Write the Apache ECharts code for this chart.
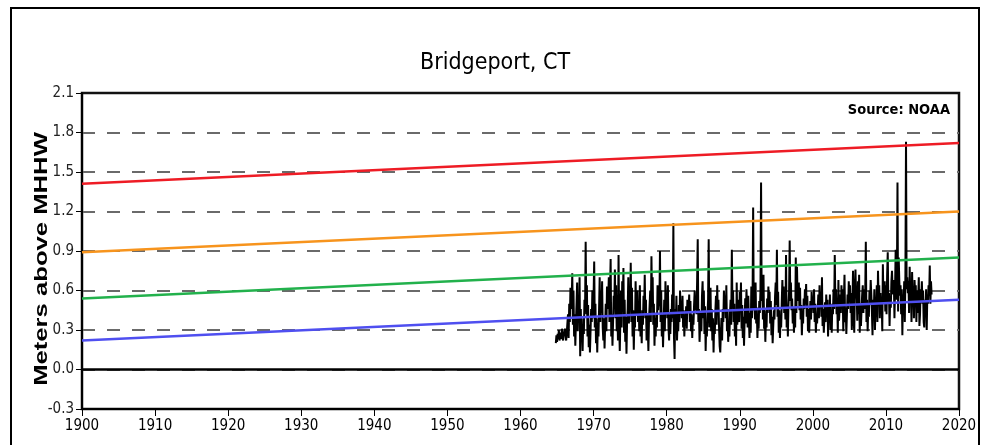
<!DOCTYPE html>
<html><head><meta charset="utf-8">
<script src="https://cdn.jsdelivr.net/npm/echarts@6/dist/echarts.min.js"></script>
<style>html,body{margin:0;padding:0;background:#fff}#c{width:990px;height:445px}</style>
</head><body><div id="c"></div>
<script>
// Monthly highest water level (m above MHHW), starting Nov 1964, one value per month
const tideStart = 1964 + 10/12;
const tideStep = 1/12;
const tide1960s = [0.20,0.26,
 0.21,0.27,0.24,0.30,0.22,0.26,0.28,0.23,0.31,0.25,0.22,0.29,
 0.26,0.31,0.25,0.22,0.28,0.35,0.42,0.24,0.50,0.36,0.62,0.46,
 0.50,0.73,0.34,0.60,0.25,0.42,0.18,0.36,0.49,0.66,0.29,0.53,
 0.39,0.70,0.10,0.46,0.22,0.32,0.14,0.39,0.27,0.53,0.45,0.97,
 0.42,0.64,0.25,0.49,0.17,0.34,0.13,0.29,0.46,0.36,0.60,0.39];
const tide1970s = [
 0.56,0.82,0.32,0.50,0.20,0.39,0.13,0.35,0.25,0.46,0.70,0.36,
 0.60,0.43,0.67,0.32,0.22,0.39,0.16,0.34,0.50,0.29,0.63,0.46,
 0.53,0.70,0.36,0.60,0.84,0.25,0.42,0.18,0.36,0.56,0.48,0.76,
 0.39,0.64,0.29,0.49,0.22,0.87,0.34,0.14,0.39,0.60,0.32,0.67,
 0.50,0.77,0.28,0.53,0.21,0.40,0.12,0.36,0.46,0.70,0.35,0.57,
 0.46,0.81,0.36,0.62,0.25,0.45,0.15,0.39,0.32,0.67,0.42,0.53,
 0.60,0.36,0.50,0.29,0.64,0.25,0.40,0.20,0.45,0.34,0.56,0.46,
 0.72,0.39,0.53,0.22,0.42,0.32,0.14,0.38,0.49,0.60,0.36,0.86,
 0.53,0.70,0.34,0.50,0.18,0.39,0.25,0.43,0.32,0.64,0.45,0.56,
 0.48,0.90,0.36,0.60,0.25,0.42,0.17,0.35,0.53,0.29,0.67,0.46];
const tide1980s = [
 0.56,0.39,0.64,0.32,0.22,0.42,0.27,0.46,0.36,0.57,0.39,1.11,
 0.25,0.08,0.46,0.34,0.56,0.22,0.39,0.29,0.49,0.36,0.60,0.42,
 0.50,0.39,0.56,0.32,0.45,0.25,0.40,0.35,0.48,0.31,0.53,0.43,
 0.46,0.57,0.36,0.52,0.29,0.42,0.24,0.39,0.34,0.49,0.60,0.45,
 0.53,0.42,0.67,0.99,0.36,0.46,0.21,0.34,0.43,0.29,0.56,0.67,
 0.39,0.60,0.27,0.48,0.14,0.36,0.25,0.42,0.53,0.99,0.32,0.50,
 0.62,0.29,0.46,0.22,0.39,0.13,0.35,0.27,0.45,0.56,0.34,0.64,
 0.42,0.53,0.32,0.18,0.13,0.28,0.39,0.22,0.46,0.36,0.60,0.49,
 0.56,0.39,0.64,0.29,0.46,0.21,0.36,0.25,0.43,0.53,0.34,0.91,
 0.48,0.60,0.36,0.50,0.25,0.40,0.18,0.66,0.34,0.53,0.42,0.36];
const tide1990s = [
 0.59,0.45,0.66,0.31,0.49,0.24,0.40,0.18,0.38,0.54,0.35,0.61,
 0.49,0.32,0.56,0.38,0.24,0.43,0.28,0.63,0.39,0.52,1.23,0.45,
 0.59,0.38,0.66,0.35,0.47,0.24,0.40,0.31,0.52,0.43,0.60,1.42,
 0.52,0.68,0.38,0.72,0.31,0.45,0.21,0.38,0.32,0.54,0.43,0.63,
 0.46,0.59,0.35,0.52,0.26,0.40,0.20,0.33,0.45,0.38,0.56,0.66,
 0.49,0.91,0.40,0.59,0.28,0.45,0.24,0.38,0.32,0.52,0.68,0.47,
 0.63,0.43,0.54,0.38,0.87,0.32,0.45,0.25,0.49,0.59,0.98,0.52,
 0.66,0.45,0.54,0.35,0.47,0.28,0.40,0.32,0.85,0.43,0.78,0.52,
 0.59,0.66,0.45,0.62,0.38,0.49,0.26,0.43,0.35,0.54,0.46,0.61,
 0.52,0.65,0.40,0.56,0.29,0.46,0.28,0.42,0.52,0.38,0.59,0.49];
const tide2000s = [
 0.54,0.43,0.61,0.36,0.50,0.28,0.42,0.35,0.46,0.57,0.39,0.64,
 0.47,0.58,0.40,0.70,0.33,0.46,0.28,0.39,0.51,0.36,0.57,0.44,
 0.53,0.25,0.47,0.36,0.57,0.30,0.43,0.28,0.50,0.42,0.61,0.46,
 0.87,0.50,0.61,0.42,0.53,0.28,0.68,0.37,0.47,0.57,0.43,0.64,
 0.50,0.61,0.29,0.54,0.72,0.36,0.47,0.27,0.43,0.57,0.46,0.67,
 0.53,0.64,0.43,0.58,0.30,0.50,0.75,0.39,0.28,0.61,0.76,0.54,
 0.58,0.37,0.67,0.42,0.72,0.28,0.50,0.33,0.46,0.57,0.64,0.43,
 0.61,0.46,0.57,0.97,0.36,0.53,0.29,0.47,0.40,0.60,0.50,0.68,
 0.57,0.44,0.26,0.53,0.42,0.61,0.30,0.50,0.46,0.64,0.36,0.75,
 0.53,0.64,0.39,0.58,0.43,0.54,0.29,0.80,0.50,0.61,0.67,0.44];
const tide2010s = [
 0.64,0.42,0.72,0.89,0.50,0.58,0.33,0.54,0.47,0.67,0.75,0.60,
 0.57,0.68,0.39,0.61,0.91,0.53,0.64,1.42,0.44,0.85,0.67,0.56,
 0.64,0.42,0.61,0.26,0.57,0.47,0.67,0.36,0.72,1.73,0.61,0.70,
 0.58,0.67,0.43,0.78,0.57,0.64,0.36,0.74,0.53,0.61,0.39,0.68,
 0.57,0.64,0.36,0.60,0.43,0.54,0.70,0.33,0.42,0.61,0.53,0.67,
 0.50,0.60,0.36,0.32,0.53,0.46,0.61,0.30,0.57,0.50,0.64,0.56,
 0.79,0.50,0.67,0.57];

// Sea-level-rise projection lines (value at 1900 and 2020)
const trendYears = [1900, 2020];
const trendRed = [1.41, 1.72];
const trendOrange = [0.89, 1.20];
const trendGreen = [0.54, 0.85];
const trendBlue = [0.22, 0.53];

const xTicks = [1900, 2020, 10];
const yTicks = [-0.3, 2.1, 0.3];

const tide = [].concat(tide1960s, tide1970s, tide1980s, tide1990s, tide2000s, tide2010s);
const tideData = tide.map((v, i) => [tideStart + i * tideStep, v]);
const mk = arr => trendYears.map((y, i) => [y, arr[i]]);

const narrow = "'Liberation Sans Narrow','Arial Narrow','DejaVu Sans Condensed',sans-serif";
const chart = echarts.init(document.getElementById('c'), null, {renderer: 'canvas'});
const trendSeries = (data, color) => ({
  type: 'line', data: mk(data), showSymbol: false, symbol: 'none', silent: true, z: 4,
  lineStyle: {color: color, width: 2.5}
});
chart.setOption({
  animation: false,
  backgroundColor: '#fff',
  title: {
    text: 'Bridgeport, CT', left: 'center', top: 47,
    textStyle: {fontFamily: narrow, fontSize: 23, fontWeight: 'normal', color: '#000'}
  },
  grid: {left: 82, right: 31, top: 93, bottom: 36, show: true, borderColor: '#111', borderWidth: 2.5, backgroundColor: 'transparent'},
  xAxis: {
    type: 'value', min: xTicks[0], max: xTicks[1], interval: xTicks[2],
    axisLine: {show: true, onZero: false, lineStyle: {color: '#000', width: 2}},
    axisTick: {show: true, length: 7, lineStyle: {color: '#000', width: 1}},
    axisLabel: {fontFamily: narrow, fontSize: 15, color: '#000', margin: 10,
      formatter: v => String(v)},
    splitLine: {show: false}
  },
  yAxis: {
    type: 'value', min: yTicks[0], max: yTicks[1], interval: yTicks[2],
    axisLine: {show: true, onZero: false, lineStyle: {color: '#000', width: 2}},
    axisTick: {show: true, length: 6, lineStyle: {color: '#000', width: 1}},
    axisLabel: {fontFamily: narrow, fontSize: 15, color: '#222', margin: 8,
      formatter: v => v.toFixed(1)},
    splitLine: {show: true, showMinLine: false, showMaxLine: false,
      lineStyle: {color: '#6a6a6a', width: 2, type: [13, 12]}}
  },
  graphic: [
    {type: 'rect', shape: {x: 11, y: 8, width: 968, height: 460}, silent: true,
      style: {fill: 'none', stroke: '#000', lineWidth: 2}, z: 0},
    {type: 'text', x: 42, y: 259, rotation: Math.PI / 2, scaleX: 1.35, silent: true,
      style: {text: 'Meters above MHHW', font: "bold 19px 'Liberation Sans', Arial, sans-serif",
        fill: '#000', align: 'center', verticalAlign: 'middle'}},
    {type: 'text', x: 950, y: 110, silent: true,
      style: {text: 'Source: NOAA', font: "bold 14.5px " + narrow, fill: '#000',
        align: 'right', verticalAlign: 'middle'}}
  ],
  series: [
    {
      type: 'line', data: tideData, showSymbol: false, symbol: 'none', z: 3,
      lineStyle: {color: '#000', width: 2},
      markLine: {silent: true, symbol: 'none', label: {show: false},
        lineStyle: {color: '#000', width: 2.5, type: 'solid'}, data: [{yAxis: 0}]}
    },
    trendSeries(trendRed, '#ee1c25'),
    trendSeries(trendOrange, '#f7941d'),
    trendSeries(trendGreen, '#22b14c'),
    trendSeries(trendBlue, '#4f4ff0')
  ]
});
</script></body></html>
